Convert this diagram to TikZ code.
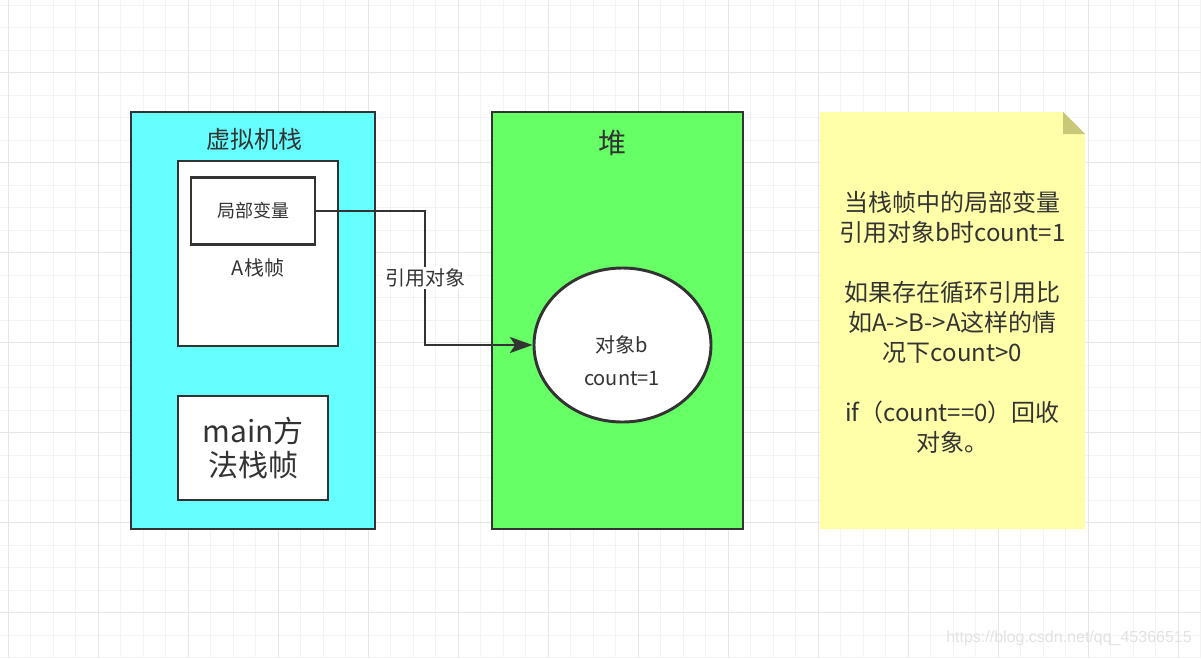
\documentclass[tikz,border=0pt]{standalone}
\usepackage{fontspec}
\setmainfont{Noto Sans CJK SC}
\newfontfamily\wmfont{Liberation Sans}
\usetikzlibrary{arrows.meta,shapes.geometric}
\definecolor{txt}{HTML}{333333}
\definecolor{cyanbox}{HTML}{66FFFF}
\definecolor{greenbox}{HTML}{66FF66}
\definecolor{notefill}{HTML}{FFFFAA}
\definecolor{notefold}{RGB}{200,200,120}
\definecolor{gridminor}{HTML}{F3F3F3}
\definecolor{gridmajor}{HTML}{E6E6E6}
\definecolor{wmcolor}{HTML}{E2E2E2}
\tikzset{
  boxshape/.style={draw=txt, line width=2.2pt, inner sep=0pt},
  lbl/.style={text=txt, inner sep=0pt, align=center},
  conn/.style={draw=txt, line width=1.7pt, -{Stealth[length=17pt,width=12pt,inset=4pt]}},
}
\begin{document}
\begin{tikzpicture}[x=0.75pt,y=-0.75pt]
\useasboundingbox (0,0) rectangle (1201,658);
\fill[white] (0,0) rectangle (1201,658);
% grid
\foreach \i in {0,...,53} \draw[gridminor, line width=0.75pt] ({8+22.5*\i},0) -- ({8+22.5*\i},658);
\foreach \i in {0,...,29} \draw[gridminor, line width=0.75pt] (0,{5+22.5*\i}) -- (1201,{5+22.5*\i});
\foreach \i in {0,...,13} \draw[gridmajor, line width=0.75pt] ({8+90*\i},0) -- ({8+90*\i},658);
\foreach \i in {0,...,6} \draw[gridmajor, line width=0.75pt] (0,{72.5+90*\i}) -- (1201,{72.5+90*\i});

% virtual machine stack
\node[boxshape, fill=cyanbox, minimum width=244*0.75pt, minimum height=417*0.75pt] (stack) at (253,320.5) {};
\node[lbl, font=\fontsize{18pt}{22pt}\selectfont] (stacktitle) at (254,139) {虚拟机栈};
\node[boxshape, fill=white, minimum width=160*0.75pt, minimum height=185*0.75pt] (frameA) at (258,253.5) {};
\node[boxshape, fill=white, minimum width=124*0.75pt, minimum height=67*0.75pt, font=\fontsize{13.5pt}{16pt}\selectfont, text=txt] (local) at (253,211) {局部变量};
\node[lbl, font=\fontsize{15pt}{18pt}\selectfont] (frameAtitle) at (258,268) {A栈帧};
\node[boxshape, fill=white, minimum width=150*0.75pt, minimum height=104*0.75pt, align=center, text=txt, font=\fontsize{22.5pt}{25.5pt}\selectfont] (mainframe) at (253,448) {main方\\法栈帧};

% heap
\node[boxshape, fill=greenbox, minimum width=251*0.75pt, minimum height=417*0.75pt] (heap) at (617.5,320.5) {};
\node[lbl, font=\fontsize{21pt}{24pt}\selectfont] (heaptitle) at (612,143) {堆};
\node[draw=txt, line width=2.2pt, fill=white, ellipse, inner sep=0pt, minimum width=177*0.75pt, minimum height=154*0.75pt] (obj) at (622.5,345) {};
\node[lbl, font=\fontsize{15pt}{18pt}\selectfont] (objname) at (622,345) {对象b};
\node[lbl, font=\fontsize{15pt}{18pt}\selectfont] (objcount) at (622,378) {count=1};

% connector
\coordinate (turn) at (425,345);
\draw[conn] (local.east) -| node[pos=0.75, fill=white, text=txt, inner sep=1pt, font=\fontsize{15pt}{18pt}\selectfont] (reflabel) {引用对象} (turn) -- (obj.west);

% note
\fill[notefill] (820,112) -- (1063,112) -- (1085,134) -- (1085,529) -- (820,529) -- cycle;
\fill[notefold] (1063,112) -- (1063,134) -- (1085,134) -- cycle;
\node[lbl, font=\fontsize{18pt}{22.5pt}\selectfont] (notetext) at (952.5,322) {当栈帧中的局部变量\\引用对象b时count=1\\[22.5pt]如果存在循环引用比\\如A->B->A这样的情\\况下count>0\\[22.5pt]if（count==0）回收\\对象。};

% watermark
\node[text=wmcolor, inner sep=0pt, font=\wmfont\fontsize{12pt}{14pt}\selectfont] (wm) at (1069,638) {https://blog.csdn.net/qq\_45366515};
\end{tikzpicture}
\end{document}
